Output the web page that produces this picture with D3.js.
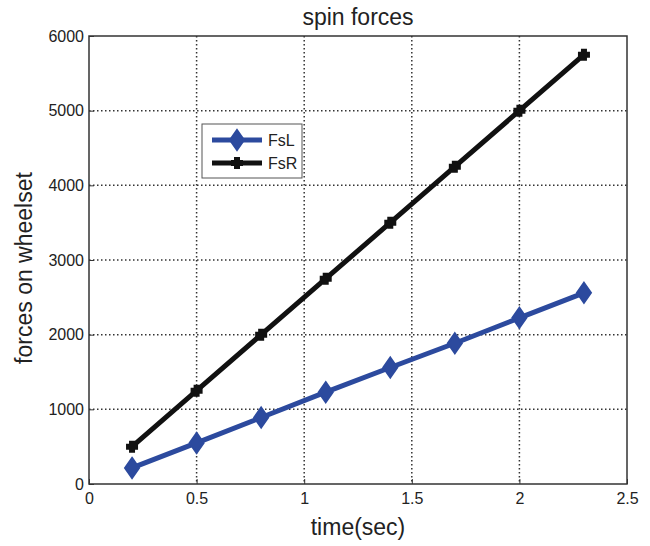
<!DOCTYPE html>
<html lang="en">

<head>
    <meta charset="UTF-8">
    <title>spin forces</title>
    <script src="https://d3js.org/d3.v7.min.js"></script>
    <style>
        body {
            margin: 0;
            background: #fff;
            overflow: hidden;
        }

        svg {
            display: block;
        }

        svg text {
            font-family: "Liberation Sans", Arial, sans-serif;
            fill: #222;
        }
    </style>
</head>

<body>
    <div id="chart"></div>

    <script>
        const width = 650;
        const height = 546;
        const margin = { top: 36, right: 23, bottom: 62, left: 89 };
        const innerWidth = width - margin.left - margin.right;
        const innerHeight = height - margin.top - margin.bottom;

        // data
        const times = [0.2, 0.5, 0.8, 1.1, 1.4, 1.7, 2.0, 2.3];
        const fsL = [215, 550, 890, 1230, 1560, 1885, 2225, 2560];
        const fsR = [500, 1250, 2000, 2750, 3500, 4250, 5000, 5750];
        const xTicks = [0, 0.5, 1, 1.5, 2, 2.5];
        const yTicks = [0, 1000, 2000, 3000, 4000, 5000, 6000];

        const series = [
            { name: "FsL", values: fsL, color: "#2c4a9e", marker: "diamond" },
            { name: "FsR", values: fsR, color: "#111111", marker: "plus" }
        ];

        const x = d3.scaleLinear().domain([0, 2.5]).range([0, innerWidth]);
        const y = d3.scaleLinear().domain([0, 6000]).range([innerHeight, 0]);

        const svg = d3.select("#chart")
            .append("svg")
            .attr("width", width)
            .attr("height", height);

        const g = svg.append("g")
            .attr("transform", `translate(${margin.left}, ${margin.top})`);

        // dotted grid
        g.selectAll(".vgrid")
            .data(xTicks.slice(1, -1))
            .join("line")
            .attr("x1", d => x(d)).attr("x2", d => x(d))
            .attr("y1", 0).attr("y2", innerHeight)
            .attr("stroke", "#333")
            .attr("stroke-width", 1.5)
            .attr("stroke-dasharray", "1.5,2.5");

        g.selectAll(".hgrid")
            .data(yTicks.slice(1, -1))
            .join("line")
            .attr("x1", 0).attr("x2", innerWidth)
            .attr("y1", d => y(d)).attr("y2", d => y(d))
            .attr("stroke", "#333")
            .attr("stroke-width", 1.5)
            .attr("stroke-dasharray", "1.5,2.5");

        // axes (ticks inside, matlab style)
        const xAxis = d3.axisBottom(x).tickValues(xTicks).tickSizeInner(-5).tickSizeOuter(0)
            .tickPadding(9).tickFormat(d3.format("~g"));
        const yAxis = d3.axisLeft(y).tickValues(yTicks).tickSizeInner(-5).tickSizeOuter(0)
            .tickPadding(5).tickFormat(d3.format("d"));

        g.append("g")
            .attr("transform", `translate(0, ${innerHeight})`)
            .call(xAxis)
            .call(a => a.select(".domain").remove())
            .call(a => a.selectAll("line").attr("stroke", "#333"))
            .call(a => a.selectAll("text").attr("font-size", 16).attr("fill", "#333"));

        g.append("g")
            .call(yAxis)
            .call(a => a.select(".domain").remove())
            .call(a => a.selectAll("line").attr("stroke", "#333"))
            .call(a => a.selectAll("text").attr("font-size", 16).attr("fill", "#333"));

        g.append("rect")
            .attr("width", innerWidth)
            .attr("height", innerHeight)
            .attr("fill", "none")
            .attr("stroke", "#333")
            .attr("stroke-width", 1.5);

        // lines
        const line = d3.line()
            .x((d, i) => x(times[i]))
            .y(d => y(d));

        function drawMarker(sel, type, color) {
            if (type === "diamond") {
                sel.append("path")
                    .attr("d", "M0,-10L7,0L0,10L-7,0Z")
                    .attr("fill", color)
                    .attr("stroke", color)
                    .attr("stroke-width", 2);
            } else {
                sel.append("path")
                    .attr("d", "M-3,-6h6v3h3v6h-3v3h-6v-3h-3v-6h3Z")
                    .attr("fill", color);
            }
        }

        series.forEach(s => {
            g.append("path")
                .datum(s.values)
                .attr("d", line)
                .attr("fill", "none")
                .attr("stroke", s.color)
                .attr("stroke-width", 5)
                .attr("stroke-linejoin", "round");

            g.selectAll(null)
                .data(s.values)
                .join("g")
                .attr("transform", (d, i) => `translate(${x(times[i])}, ${y(d)})`)
                .each(function () { drawMarker(d3.select(this), s.marker, s.color); });
        });

        // legend
        const legend = g.append("g").attr("transform", "translate(113, 88)");
        legend.append("rect")
            .attr("width", 100)
            .attr("height", 54)
            .attr("fill", "#fff")
            .attr("stroke", "#555")
            .attr("stroke-width", 1);

        series.forEach((s, i) => {
            const row = legend.append("g").attr("transform", `translate(0, ${16 + i * 23})`);
            row.append("line")
                .attr("x1", 10).attr("x2", 60)
                .attr("stroke", s.color)
                .attr("stroke-width", 5);
            drawMarker(row.append("g").attr("transform", "translate(35, 0)"), s.marker, s.color);
            row.append("text")
                .attr("x", 66)
                .attr("dy", "0.35em")
                .attr("font-size", 16)
                .text(s.name);
        });

        // titles
        svg.append("text")
            .attr("x", margin.left + innerWidth / 2)
            .attr("y", 25)
            .attr("text-anchor", "middle")
            .attr("font-size", 23)
            .text("spin forces");

        svg.append("text")
            .attr("x", margin.left + innerWidth / 2)
            .attr("y", 535)
            .attr("text-anchor", "middle")
            .attr("font-size", 23)
            .text("time(sec)");

        svg.append("text")
            .attr("transform", "translate(32, 268) rotate(-90)")
            .attr("text-anchor", "middle")
            .attr("font-size", 23)
            .text("forces on wheelset");
    </script>
</body>

</html>
